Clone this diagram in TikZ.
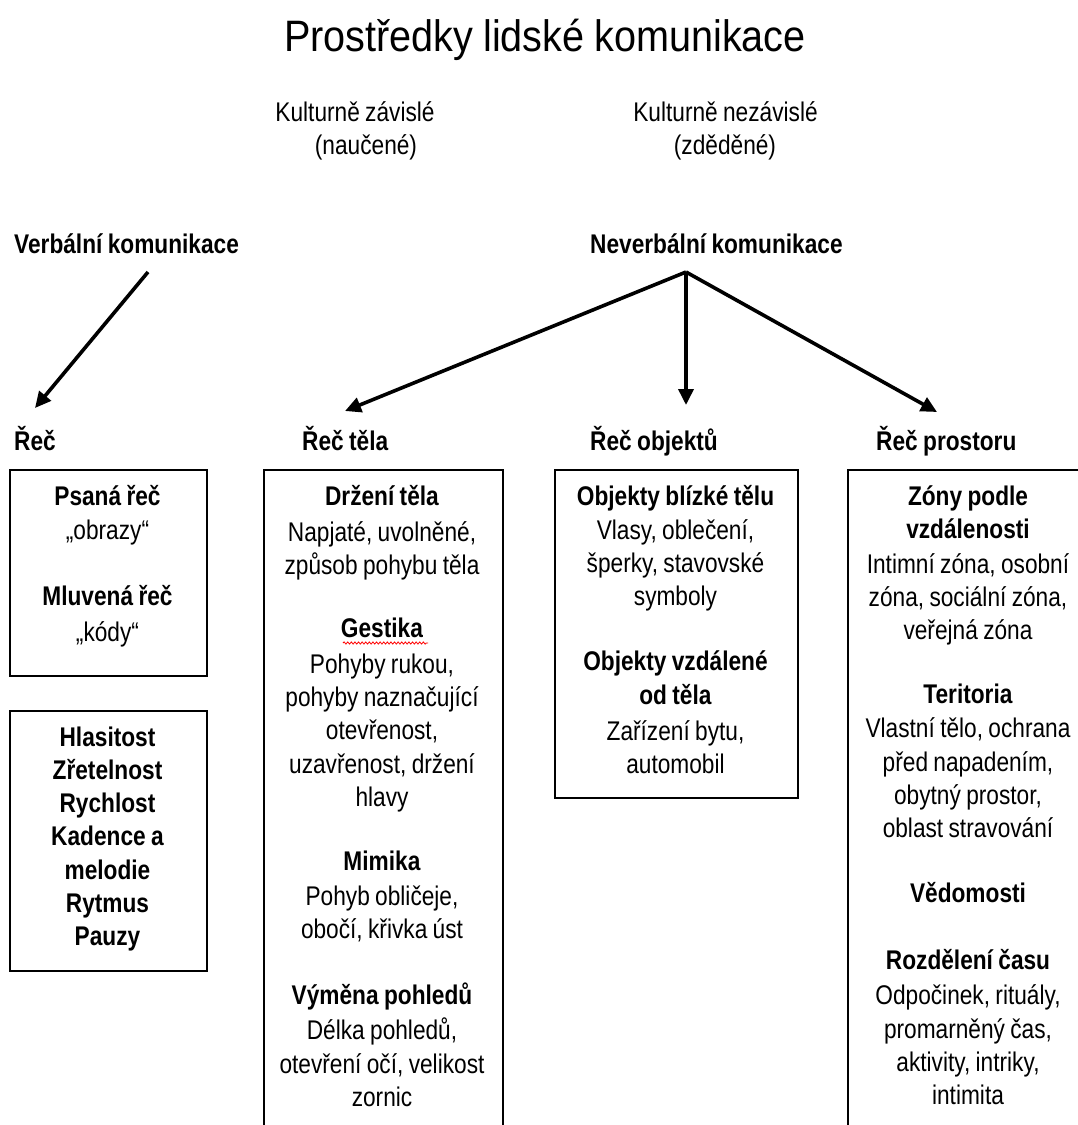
\documentclass[tikz,border=0pt]{standalone}
\usepackage{fontspec}
\setmainfont{Liberation Sans}
\newfontfamily\bodyf{Liberation Sans}[FakeStretch=0.84,WordSpace=0.85]
\newfontfamily\titlef{Liberation Sans}[FakeStretch=0.9,WordSpace=0.9]
\usetikzlibrary{arrows.meta,decorations.pathmorphing}
\tikzset{
  bodytxt/.style={font=\bodyf\fontsize{27}{33.3}\selectfont, inner sep=0pt, align=flush center, text width=#1, anchor=base},
  plain/.style={font=\bodyf\fontsize{27}{33.3}\selectfont, inner sep=0pt, anchor=base},
  head/.style={font=\bodyf\bfseries\fontsize{27}{33.3}\selectfont, inner sep=0pt, anchor=base west, text height=20pt, text depth=5pt},
  boxst/.style={draw=black, line width=1.5pt, inner sep=0pt, anchor=north west},
  arr/.style={line width=3.6pt, -{Triangle[length=16pt,width=15pt]}},
}
\begin{document}
\begin{tikzpicture}[x=1pt,y=-1pt]
\clip (0,0) rectangle (1078,1125);
\fill[white] (0,0) rectangle (1078,1125);

% title and top notes
\node[font=\titlef\fontsize{44}{48}\selectfont, inner sep=0pt, anchor=base] (title) at (545,51) {Prostředky lidské komunikace};
\node[plain] (kz) at (355,121) {Kulturně závislé};
\node[plain] (kzn) at (366,154) {(naučené)};
\node[plain] (kn) at (725.5,121) {Kulturně nezávislé};
\node[plain] (knz) at (725,154) {(zděděné)};

% main headings
\node[head] (verb) at (14,253) {Verbální komunikace};
\node[head] (nverb) at (590,253) {Neverbální komunikace};

% category labels
\node[head] (rec) at (14,450) {Řeč};
\node[head] (tela) at (302,450) {Řeč těla};
\node[head] (obj) at (590,450) {Řeč objektů};
\node[head] (pros) at (876,450) {Řeč prostoru};

% connectors
\coordinate (vstart) at (148,272);
\coordinate (napex) at (686,272);
\coordinate (recTip) at (35,408);
\coordinate (telaTip) at (345,411);
\coordinate (objTip) at (686,405);
\coordinate (prosTip) at (937,412);
\draw[arr] (vstart) -- (recTip);
\draw[arr] (napex) -- (telaTip);
\draw[arr] (napex) -- (objTip);
\draw[arr] (napex) -- (prosTip);

% boxes
\node[boxst, minimum width=197pt, minimum height=206pt] (b1) at (9,469) {};
\node[boxst, minimum width=197pt, minimum height=260pt] (b2) at (9,710) {};
\node[boxst, minimum width=239pt, minimum height=700pt] (b3) at (263,469) {};
\node[boxst, minimum width=243pt, minimum height=328pt] (b4) at (554,469) {};
\node[boxst, minimum width=300pt, minimum height=700pt] (b5) at (847,469) {};

% box texts
\node[bodytxt=190pt] (t1) at (107.5,505) {\textbf{Psaná řeč}\\[0.7pt]„obrazy“\\[32.7pt]\textbf{Mluvená řeč}\\[2.7pt]„kódy“};
\node[bodytxt=190pt] (t2) at (107.5,746) {\bfseries Hlasitost\\Zřetelnost\\Rychlost\\Kadence a\\melodie\\Rytmus\\Pauzy};
\node[bodytxt=236pt] (t3) at (382,505) {\textbf{Držení těla}\\[2.7pt]Napjaté, uvolněné,\\způsob pohybu těla\\[29.7pt]\textbf{Gestika}\\[2.7pt]Pohyby rukou,\\pohyby naznačující\\otevřenost,\\uzavřenost, držení\\hlavy\\[30.7pt]\textbf{Mimika}\\[1.7pt]Pohyb obličeje,\\obočí, křivka úst\\[32.7pt]\textbf{Výměna pohledů}\\[1.7pt]Délka pohledů,\\otevření očí, velikost\\zornic};
\node[bodytxt=240pt] (t4) at (675.5,505) {\textbf{Objekty blízké tělu}\\[0.7pt]Vlasy, oblečení,\\šperky, stavovské\\symboly\\[32pt]\textbf{Objekty vzdálené}\\\textbf{od těla}\\[2.7pt]Zařízení bytu,\\automobil};
\node[bodytxt=240pt] (t5) at (968,505) {\textbf{Zóny podle}\\\textbf{vzdálenosti}\\[1.7pt]Intimní zóna, osobní\\zóna, sociální zóna,\\veřejná zóna\\[30.7pt]\textbf{Teritoria}\\[0.7pt]Vlastní tělo, ochrana\\před napadením,\\obytný prostor,\\oblast stravování\\[31.7pt]\textbf{Vědomosti}\\[33.7pt]\textbf{Rozdělení času}\\[1.7pt]Odpočinek, rituály,\\promarněný čas,\\aktivity, intriky,\\intimita};

% spell-check underline under "Gestika"
\draw[red, line width=0.8pt, decorate, decoration={snake, amplitude=1.1pt, segment length=3.6pt}] (343,643) -- (428,643);
\end{tikzpicture}
\end{document}
